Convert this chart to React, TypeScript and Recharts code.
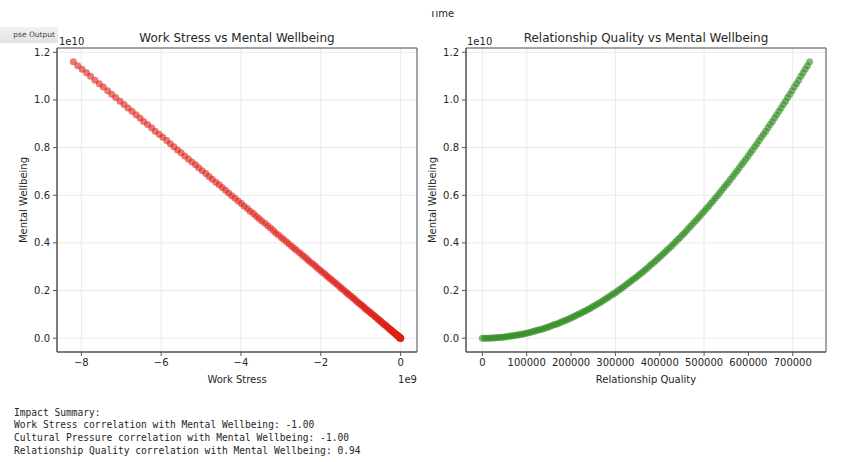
import {
  CartesianGrid,
  ReferenceArea,
  Scatter,
  ScatterChart,
  XAxis,
  YAxis,
} from "recharts";

// Work Stress, in units of 1e9 (axis offset text "1e9")
const workStress = [
  0, 0, 0, 0, -0.01, -0.01, -0.01, -0.02, -0.02, -0.03,
  -0.04, -0.04, -0.05, -0.06, -0.07, -0.08, -0.09, -0.11, -0.12, -0.13,
  -0.15, -0.16, -0.18, -0.2, -0.21, -0.23, -0.25, -0.27, -0.29, -0.31,
  -0.33, -0.35, -0.38, -0.4, -0.43, -0.45, -0.48, -0.51, -0.53, -0.56,
  -0.59, -0.62, -0.65, -0.68, -0.72, -0.75, -0.78, -0.82, -0.85, -0.89,
  -0.92, -0.96, -1.0, -1.04, -1.08, -1.12, -1.16, -1.2, -1.24, -1.29,
  -1.33, -1.37, -1.42, -1.47, -1.51, -1.56, -1.61, -1.66, -1.71, -1.76,
  -1.81, -1.86, -1.91, -1.97, -2.02, -2.08, -2.13, -2.19, -2.25, -2.31,
  -2.36, -2.42, -2.48, -2.54, -2.61, -2.67, -2.73, -2.8, -2.86, -2.93,
  -2.99, -3.06, -3.13, -3.19, -3.26, -3.33, -3.4, -3.48, -3.55, -3.62,
  -3.69, -3.77, -3.84, -3.92, -3.99, -4.07, -4.15, -4.23, -4.31, -4.39,
  -4.47, -4.55, -4.63, -4.72, -4.8, -4.88, -4.97, -5.06, -5.14, -5.23,
  -5.32, -5.41, -5.5, -5.59, -5.68, -5.77, -5.86, -5.96, -6.05, -6.15,
  -6.24, -6.34, -6.44, -6.53, -6.63, -6.73, -6.83, -6.93, -7.03, -7.14,
  -7.24, -7.34, -7.45, -7.55, -7.66, -7.77, -7.87, -7.98, -8.09, -8.2,
];

// Mental Wellbeing, in units of 1e10 (axis offset text "1e10")
const wellbeing = [
  0, 0, 0, 0, 0.001, 0.001, 0.002, 0.003, 0.003, 0.004,
  0.005, 0.006, 0.008, 0.009, 0.01, 0.012, 0.013, 0.015, 0.017, 0.019,
  0.021, 0.023, 0.025, 0.028, 0.03, 0.033, 0.035, 0.038, 0.041, 0.044,
  0.047, 0.05, 0.054, 0.057, 0.06, 0.064, 0.068, 0.072, 0.075, 0.079,
  0.084, 0.088, 0.092, 0.097, 0.101, 0.106, 0.111, 0.115, 0.12, 0.125,
  0.131, 0.136, 0.141, 0.147, 0.152, 0.158, 0.164, 0.17, 0.176, 0.182,
  0.188, 0.194, 0.201, 0.207, 0.214, 0.221, 0.228, 0.235, 0.242, 0.249,
  0.256, 0.263, 0.271, 0.278, 0.286, 0.294, 0.302, 0.31, 0.318, 0.326,
  0.334, 0.343, 0.351, 0.36, 0.369, 0.378, 0.386, 0.395, 0.405, 0.414,
  0.423, 0.433, 0.442, 0.452, 0.462, 0.472, 0.482, 0.492, 0.502, 0.512,
  0.523, 0.533, 0.544, 0.554, 0.565, 0.576, 0.587, 0.598, 0.609, 0.621,
  0.632, 0.644, 0.655, 0.667, 0.679, 0.691, 0.703, 0.715, 0.728, 0.74,
  0.752, 0.765, 0.778, 0.79, 0.803, 0.816, 0.83, 0.843, 0.856, 0.869,
  0.883, 0.897, 0.91, 0.924, 0.938, 0.952, 0.966, 0.981, 0.995, 1.01,
  1.024, 1.039, 1.054, 1.068, 1.083, 1.099, 1.114, 1.129, 1.144, 1.16,
];

const relationshipQuality = [
  0, 4950, 9910, 14860, 19810, 24770, 29720, 34670, 39630, 44580,
  49530, 54490, 59440, 64390, 69350, 74300, 79250, 84210, 89160, 94110,
  99070, 104020, 108970, 113930, 118880, 123840, 128790, 133740, 138700, 143650,
  148600, 153560, 158510, 163460, 168420, 173370, 178320, 183280, 188230, 193180,
  198140, 203090, 208040, 213000, 217950, 222900, 227860, 232810, 237760, 242720,
  247670, 252620, 257580, 262530, 267480, 272440, 277390, 282340, 287300, 292250,
  297200, 302160, 307110, 312060, 317020, 321970, 326920, 331880, 336830, 341780,
  346740, 351690, 356640, 361600, 366550, 371510, 376460, 381410, 386370, 391320,
  396270, 401230, 406180, 411130, 416090, 421040, 425990, 430950, 435900, 440850,
  445810, 450760, 455710, 460670, 465620, 470570, 475530, 480480, 485430, 490390,
  495340, 500290, 505250, 510200, 515150, 520110, 525060, 530010, 534970, 539920,
  544870, 549830, 554780, 559730, 564690, 569640, 574590, 579550, 584500, 589450,
  594410, 599360, 604310, 609270, 614220, 619180, 624130, 629080, 634040, 638990,
  643940, 648900, 653850, 658800, 663760, 668710, 673660, 678620, 683570, 688520,
  693480, 698430, 703380, 708340, 713290, 718240, 723200, 728150, 733100, 738050,
];

const wellbeingTicks = [0, 0.2, 0.4, 0.6, 0.8, 1.0, 1.2];
const workStressTicks = [-8, -6, -4, -2, 0];
const relationshipTicks = [0, 100000, 200000, 300000, 400000, 500000, 600000, 700000];

const summaryLines = [
  "Impact Summary:",
  "Work Stress correlation with Mental Wellbeing: -1.00",
  "Cultural Pressure correlation with Mental Wellbeing: -1.00",
  "Relationship Quality correlation with Mental Wellbeing: 0.94",
];

const leftPoints = workStress.map((x, i) => ({ x, y: wellbeing[i] }));
const rightPoints = relationshipQuality.map((x, i) => ({ x, y: wellbeing[i] }));

const FONT = "'DejaVu Sans', sans-serif";
const TEXT = "#262626";
const FRAME = "#555";
const Y_DOMAIN: [number, number] = [-0.058, 1.218];
const LEFT_X_DOMAIN: [number, number] = [-8.61, 0.41];
const RIGHT_X_DOMAIN: [number, number] = [-36900, 774950];

const tickStyle = { fontSize: 10, fill: TEXT, fontFamily: FONT };

const dot = (fill: string) => (props: any) => (
  <circle cx={props.cx} cy={props.cy} r={3.5} fill={fill} fillOpacity={0.6} />
);

const minus = (v: number) => (v < 0 ? `\u2212${Math.abs(v)}` : `${v}`);

function Panel({
  left,
  width,
  yAxisWidth,
  data,
  xDomain,
  xTicks,
  xFormat,
  color,
}: {
  left: number;
  width: number;
  yAxisWidth: number;
  data: { x: number; y: number }[];
  xDomain: [number, number];
  xTicks: number[];
  xFormat: (v: number) => string;
  color: string;
}) {
  return (
    <div style={{ position: "absolute", left, top: 0 }}>
      <ScatterChart
        width={width}
        height={400}
        margin={{ top: 48, right: 14, left: 0, bottom: 0 }}
      >
        <CartesianGrid stroke="#e4e4e4" strokeWidth={0.8} />
        <XAxis
          type="number"
          dataKey="x"
          domain={xDomain}
          ticks={xTicks}
          tickFormatter={xFormat}
          height={48}
          tick={tickStyle}
          tickSize={4}
          tickMargin={3}
          tickLine={{ stroke: FRAME }}
          axisLine={{ stroke: FRAME }}
          allowDataOverflow
        />
        <YAxis
          type="number"
          dataKey="y"
          domain={Y_DOMAIN}
          ticks={wellbeingTicks}
          tickFormatter={(v: number) => v.toFixed(1)}
          width={yAxisWidth}
          tick={tickStyle}
          tickSize={4}
          tickMargin={3}
          tickLine={{ stroke: FRAME }}
          axisLine={{ stroke: FRAME }}
          allowDataOverflow
        />
        <Scatter
          data={data}
          shape={dot(color)}
          isAnimationActive={false}
        />
        <ReferenceArea
          x1={xDomain[0]}
          x2={xDomain[1]}
          y1={Y_DOMAIN[0]}
          y2={Y_DOMAIN[1]}
          fill="none"
          stroke={FRAME}
          strokeWidth={1}
          ifOverflow="visible"
        />
      </ScatterChart>
    </div>
  );
}

export default function App() {
  return (
    <div
      style={{
        position: "absolute",
        left: 0,
        top: 0,
        width: 843,
        height: 462,
        background: "#fff",
        overflow: "hidden",
        fontFamily: FONT,
      }}
    >
      <Panel
        left={0}
        width={431}
        yAxisWidth={57}
        data={leftPoints}
        xDomain={LEFT_X_DOMAIN}
        xTicks={workStressTicks}
        xFormat={minus}
        color="#dc2018"
      />
      <Panel
        left={420}
        width={420}
        yAxisWidth={46}
        data={rightPoints}
        xDomain={RIGHT_X_DOMAIN}
        xTicks={relationshipTicks}
        xFormat={(v: number) => `${v}`}
        color="#2e8a1e"
      />
      <svg
        width={843}
        height={462}
        style={{ position: "absolute", left: 0, top: 0, pointerEvents: "none" }}
        fontFamily={FONT}
        fill={TEXT}
      >
        <text x={442} y={17} fontSize={10} textAnchor="middle">
          Time
        </text>
        <rect x={0} y={0} width={843} height={11} fill="#fff" />

        <text x={237} y={38} fontSize={12} textAnchor="middle" dominantBaseline="central">
          Work Stress vs Mental Wellbeing
        </text>
        <text x={646} y={38} fontSize={12} textAnchor="middle" dominantBaseline="central">
          Relationship Quality vs Mental Wellbeing
        </text>

        <text x={59} y={41} fontSize={10} dominantBaseline="central">
          1e10
        </text>
        <text x={467} y={41} fontSize={10} dominantBaseline="central">
          1e10
        </text>

        <text
          x={23}
          y={200}
          fontSize={10}
          textAnchor="middle"
          dominantBaseline="central"
          transform="rotate(-90 23 200)"
        >
          Mental Wellbeing
        </text>
        <text
          x={432}
          y={200}
          fontSize={10}
          textAnchor="middle"
          dominantBaseline="central"
          transform="rotate(-90 432 200)"
        >
          Mental Wellbeing
        </text>

        <text x={237} y={379} fontSize={10} textAnchor="middle" dominantBaseline="central">
          Work Stress
        </text>
        <text x={417} y={379} fontSize={10} textAnchor="end" dominantBaseline="central">
          1e9
        </text>
        <text x={646} y={379} fontSize={10} textAnchor="middle" dominantBaseline="central">
          Relationship Quality
        </text>

        {summaryLines.map((line, i) => (
          <text
            key={line}
            x={14}
            y={412 + i * 12.8}
            fontSize={9.6}
            fontFamily="'DejaVu Sans Mono', monospace"
            dominantBaseline="central"
          >
            {line}
          </text>
        ))}
      </svg>
      <div
        style={{
          position: "absolute",
          left: 0,
          top: 27,
          width: 58,
          height: 16,
          background: "linear-gradient(#f2f2f2, #e2e2e2)",
          fontSize: 7.5,
          lineHeight: "16px",
          color: "#444",
          textAlign: "right",
          paddingRight: 3,
          boxSizing: "border-box",
          overflow: "hidden",
          whiteSpace: "nowrap",
        }}
      >
        pse Output
      </div>
    </div>
  );
}
